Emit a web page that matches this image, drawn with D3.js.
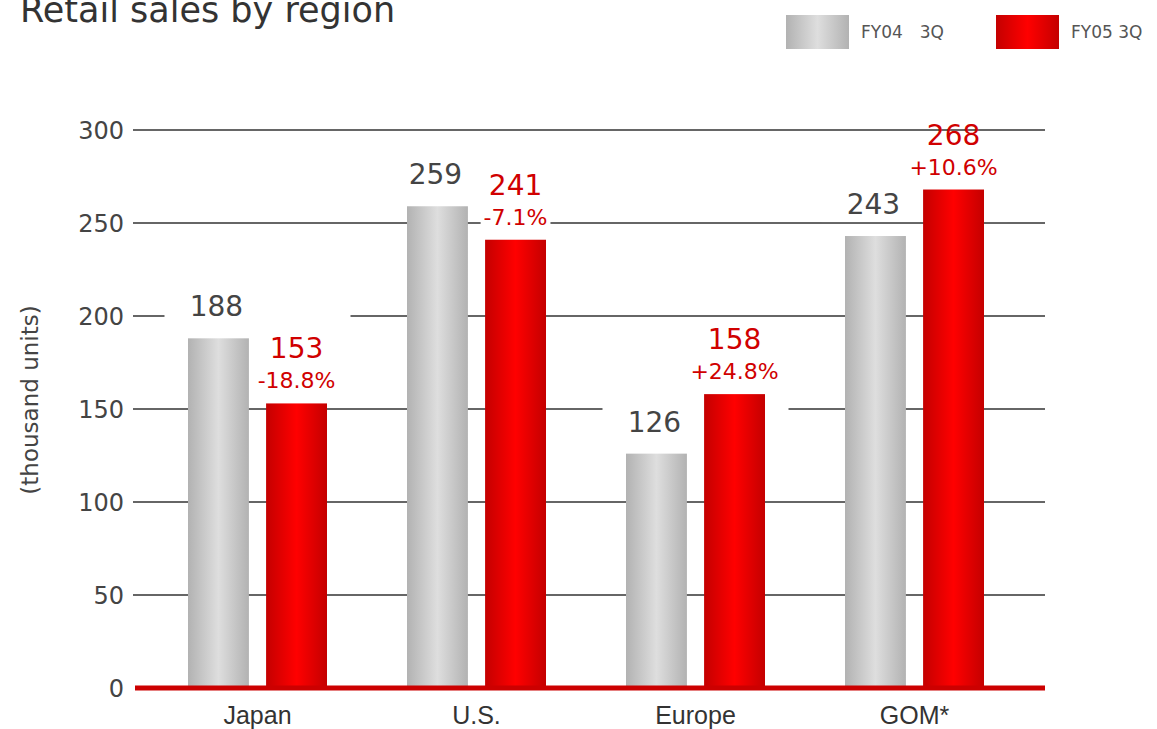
<!DOCTYPE html>
<html>
<head>
<meta charset="utf-8">
<script src="https://cdn.jsdelivr.net/npm/d3@7"></script>
<style>
  html, body { margin: 0; padding: 0; background: #fff; }
  svg { display: block; }
</style>
</head>
<body>
<svg id="chart" width="1157" height="729"></svg>
<script>
// data
const regions = ["Japan", "U.S.", "Europe", "GOM*"];
const series = ["FY04　3Q", "FY05 3Q"];
const fy04 = [188, 259, 126, 243];
const fy05 = [153, 241, 158, 268];
const change = ["-18.8%", "-7.1%", "+24.8%", "+10.6%"];
const yTicks = [0, 50, 100, 150, 200, 250, 300];

const plotLeft = 133, plotRight = 1045, plotTop = 130, plotBottom = 688;

const svg = d3.select("#chart");
const defs = svg.append("defs");

function barGradient(id, edge, mid) {
  const g = defs.append("linearGradient")
    .attr("id", id)
    .attr("x1", "0%").attr("x2", "100%")
    .attr("y1", "0%").attr("y2", "0%");
  g.append("stop").attr("offset", "0%").attr("stop-color", edge);
  g.append("stop").attr("offset", "50%").attr("stop-color", mid);
  g.append("stop").attr("offset", "100%").attr("stop-color", edge);
}
barGradient("grayGrad", "#b2b2b2", "#dedede");
barGradient("redGrad", "#c40000", "#ff0000");

const x0 = d3.scaleBand()
  .domain(regions)
  .range([148, 1024]);

const x1 = d3.scaleBand()
  .domain(series)
  .range([-69.5, 69.5])
  .paddingInner(0.22);

const y = d3.scaleLinear()
  .domain([0, 300])
  .range([plotBottom, plotTop]);

const numFont = "'DejaVu Sans', Verdana, sans-serif";

// gridlines
svg.append("g")
  .selectAll("line")
  .data(yTicks.filter(d => d > 0))
  .join("line")
  .attr("x1", plotLeft)
  .attr("x2", plotRight)
  .attr("y1", d => y(d))
  .attr("y2", d => y(d))
  .attr("stroke", "#333")
  .attr("stroke-width", 1.5);

// tick labels
svg.append("g")
  .selectAll("text")
  .data(yTicks)
  .join("text")
  .attr("x", 124)
  .attr("y", d => y(d))
  .attr("dy", "0.36em")
  .attr("text-anchor", "end")
  .attr("font-family", numFont)
  .attr("font-size", 24)
  .attr("fill", "#444")
  .text(d => d);

// axis title
svg.append("text")
  .attr("transform", "translate(38,400) rotate(-90)")
  .attr("text-anchor", "middle")
  .attr("font-family", numFont)
  .attr("font-size", 23)
  .attr("fill", "#444")
  .text("(thousand units)");

const groups = svg.append("g")
  .selectAll("g")
  .data(regions)
  .join("g")
  .attr("transform", d => "translate(" + (x0(d) + x0.bandwidth() / 2) + ",0)");

// white boxes behind the gray value labels (they hide the gridlines)
groups.append("rect")
  .attr("x", -93)
  .attr("width", 186)
  .attr("y", (d, i) => y(fy04[i]) - 22 - 26)
  .attr("height", 34)
  .attr("fill", "#fff");

// bars
groups.append("rect")
  .attr("x", x1(series[0]))
  .attr("width", x1.bandwidth())
  .attr("y", (d, i) => y(fy04[i]))
  .attr("height", (d, i) => y(0) - y(fy04[i]))
  .attr("fill", "url(#grayGrad)");

groups.append("rect")
  .attr("x", x1(series[1]))
  .attr("width", x1.bandwidth())
  .attr("y", (d, i) => y(fy05[i]))
  .attr("height", (d, i) => y(0) - y(fy05[i]))
  .attr("fill", "url(#redGrad)");

// gray value labels
groups.append("text")
  .attr("x", x1(series[0]) + x1.bandwidth() / 2 - 2)
  .attr("y", (d, i) => y(fy04[i]) - 22)
  .attr("text-anchor", "middle")
  .attr("font-family", numFont)
  .attr("font-size", 28)
  .attr("fill", "#444")
  .text((d, i) => fy04[i]);

// red value + change labels, with white behind the change text
const redX = x1(series[1]) + x1.bandwidth() / 2;
groups.each(function (d, i) {
  const g = d3.select(this);
  const pct = g.append("text")
    .attr("x", redX)
    .attr("y", y(fy05[i]) - 15)
    .attr("text-anchor", "middle")
    .attr("font-family", numFont)
    .attr("font-size", 22)
    .attr("fill", "#d00000")
    .text(change[i]);
  const bb = pct.node().getBBox();
  g.insert("rect", "text")
    .attr("x", bb.x - 3)
    .attr("y", bb.y)
    .attr("width", bb.width + 6)
    .attr("height", bb.height)
    .attr("fill", "#fff");
  g.append("text")
    .attr("x", redX)
    .attr("y", y(fy05[i]) - 45)
    .attr("text-anchor", "middle")
    .attr("font-family", numFont)
    .attr("font-size", 28)
    .attr("fill", "#d00000")
    .text(fy05[i]);
});

// category labels
groups.append("text")
  .attr("y", 724)
  .attr("text-anchor", "middle")
  .attr("font-family", "'Liberation Sans Narrow', 'Liberation Sans', sans-serif")
  .attr("font-size", 25)
  .attr("fill", "#333")
  .text(d => d);

// baseline
svg.append("line")
  .attr("x1", 135)
  .attr("x2", plotRight)
  .attr("y1", y(0))
  .attr("y2", y(0))
  .attr("stroke", "#cc0000")
  .attr("stroke-width", 5);

// title
svg.append("text")
  .attr("x", 20)
  .attr("y", 22)
  .attr("font-family", numFont)
  .attr("font-size", 35)
  .attr("fill", "#333")
  .text("Retail sales by region");

// legend
const legendX = [786, 996];
const legend = svg.append("g")
  .selectAll("g")
  .data(series)
  .join("g")
  .attr("transform", (d, i) => "translate(" + legendX[i] + ",15)");

legend.append("rect")
  .attr("width", 63)
  .attr("height", 34)
  .attr("fill", (d, i) => i === 0 ? "url(#grayGrad)" : "url(#redGrad)");

legend.append("text")
  .attr("x", 75)
  .attr("y", 17)
  .attr("dy", "0.36em")
  .attr("font-family", numFont)
  .attr("font-size", 17)
  .attr("fill", "#555")
  .text(d => d);
</script>
</body>
</html>
